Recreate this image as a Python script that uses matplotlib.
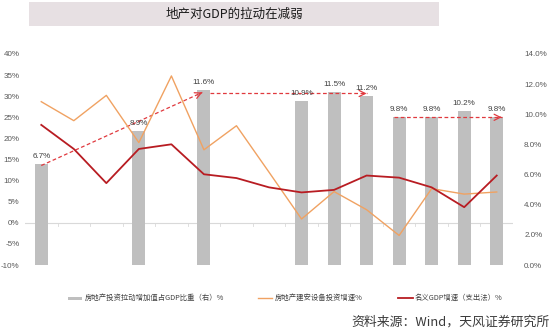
import matplotlib
matplotlib.use("Agg")
import matplotlib.pyplot as plt
from matplotlib import font_manager
from matplotlib.patches import Rectangle
from matplotlib.lines import Line2D

# ---- data ----
years = ["2007", "2008", "2009", "2010", "2011", "2012", "2013", "2014",
         "2015", "2016", "2017", "2018", "2019", "2020", "2021"]
# 房地产投资拉动增加值占GDP比重 (right axis, %), only some years published
re_share = [6.7, None, None, 8.9, None, 11.6, None, None,
            10.9, 11.5, 11.2, 9.8, 9.8, 10.2, 9.8]
# 房地产建安设备投资增速 (%)
construction_growth = [28.7, 24.2, 30.2, 19.0, 34.8, 17.3, 23.0, 12.0,
                       0.9, 7.4, 3.1, -3.0, 8.1, 6.8, 7.3]
# 名义GDP增速（支出法）(%)
nominal_gdp_growth = [23.2, 17.5, 9.4, 17.5, 18.6, 11.5, 10.6, 8.4,
                      7.2, 7.8, 11.2, 10.7, 8.4, 3.7, 11.2]

left_ticks = [-10, -5, 0, 5, 10, 15, 20, 25, 30, 35, 40]
right_ticks = [0, 2, 4, 6, 8, 10, 12, 14]

title = "地产对GDP的拉动在减弱"
legend_labels = ["房地产投资拉动增加值占GDP比重（右）%",
                 "房地产建安设备投资增速%",
                 "名义GDP增速（支出法）%"]
source = "资料来源：Wind，天风证券研究所"

# ---- style ----
plt.rcParams["font.family"] = ["Noto Sans CJK SC", "DejaVu Sans"]
names = {f.name for f in font_manager.fontManager.ttflist}
num_font = "Liberation Sans Narrow" if "Liberation Sans Narrow" in names else "Liberation Sans"

BAR = "#bfbfbf"
ORANGE = "#f0a262"
RED = "#b81c22"
ARROW = "#e0393e"
TXT = "#595959"

W, H = 559, 333
fig = plt.figure(figsize=(W / 100, H / 100), dpi=100)


def fx(px):
    return px / W


def fy(py):
    return 1 - py / H


# axes area in pixels: x 25..513, y 54..265
ax_bar = fig.add_axes([fx(25), fy(265), fx(513) - fx(25), fy(54) - fy(265)])
ax_line = ax_bar.twinx()

x = list(range(len(years)))
for a in (ax_bar, ax_line):
    a.set_xlim(-0.5, len(years) - 0.5)
    for s in a.spines.values():
        s.set_visible(False)
    a.patch.set_visible(False)

ax_bar.set_ylim(0, 14)
ax_line.set_ylim(-10, 40)

# zero line of the left scale with small boundary ticks
ax_bar.plot([-0.5, len(years) - 0.5], [0, 0], transform=ax_line.transData,
            color="#d9d9d9", lw=0.8, zorder=1)
for i in range(len(years) - 1):
    ax_bar.plot([i + 0.5, i + 0.5], [0, -0.7], transform=ax_line.transData,
                color="#d9d9d9", lw=0.6, zorder=1)

# bars
bx = [i for i, v in enumerate(re_share) if v is not None]
bv = [v for v in re_share if v is not None]
ax_bar.bar(bx, bv, width=0.4, color=BAR, zorder=2)
for i, v in zip(bx, bv):
    ax_bar.annotate(f"{v:.1f}%", (i, v), xytext=(0, 3), textcoords="offset points",
                    ha="center", va="bottom", fontsize=5.8, color="#404040",
                    family=num_font, zorder=5)

# dashed trend arrows between bar tops
def dashed_arrow(x0, y0, x1, y1):
    ax_bar.plot([x0, x1], [y0, y1], ls=(0, (3, 2)), color=ARROW, lw=0.9, zorder=3)
    dx, dy = x1 - x0, y1 - y0
    ax_bar.annotate("", xy=(x1, y1), xytext=(x1 - dx * 0.02, y1 - dy * 0.02),
                    arrowprops=dict(arrowstyle="->", color=ARROW, lw=0.9,
                                    mutation_scale=11, shrinkA=0, shrinkB=0),
                    zorder=3)


dashed_arrow(0, re_share[0] - 0.1, 5 - 0.05, re_share[5] - 0.15)
dashed_arrow(5 + 0.2, re_share[5] - 0.22, 10, re_share[5] - 0.22)
dashed_arrow(11 - 0.15, re_share[11], 14 + 0.15, re_share[14])

# lines
ax_line.plot(x, construction_growth, color=ORANGE, lw=1.0, zorder=4)
ax_line.plot(x, nominal_gdp_growth, color=RED, lw=1.3, zorder=5)

# ticks
ax_line.yaxis.tick_left()
ax_line.yaxis.set_label_position("left")
ax_bar.yaxis.tick_right()
ax_line.set_yticks(left_ticks)
ax_line.set_yticklabels([f"{t}%" for t in left_ticks])
ax_bar.set_yticks(right_ticks)
ax_bar.set_yticklabels([f"{t:.1f}%" for t in right_ticks])
ax_bar.set_xticks(x)
ax_bar.set_xticklabels(years)
ax_line.set_xticks([])
ax_bar.tick_params(axis="x", length=0, pad=7, labelsize=5.8, labelcolor="#404040")
ax_bar.tick_params(axis="y", length=0, pad=8, labelsize=5.8, labelcolor=TXT,
                   right=True, labelright=True, left=False, labelleft=False)
ax_line.tick_params(axis="y", length=0, pad=4, labelsize=5.8, labelcolor=TXT,
                    left=True, labelleft=True, right=False, labelright=False)
for lab in ax_bar.get_xticklabels() + ax_bar.get_yticklabels() + ax_line.get_yticklabels():
    lab.set_family(num_font)

# title band
fig.patches.append(Rectangle((fx(29), fy(26)), fx(439) - fx(29), fy(2) - fy(26),
                             transform=fig.transFigure, facecolor="#e7e0e3",
                             edgecolor="none", zorder=0))
fig.text(fx(234), fy(14), title, ha="center", va="center", fontsize=9, color="#1a1a1a")

# legend
ly = fy(298)
fig.patches.append(Rectangle((fx(68), fy(299.5)), fx(82) - fx(68), fy(296.5) - fy(299.5),
                             transform=fig.transFigure, facecolor=BAR, edgecolor="none"))
fig.text(fx(85), ly, legend_labels[0], ha="left", va="center", fontsize=5.3, color="#404040")
fig.lines.append(Line2D([fx(258), fx(272)], [ly, ly], transform=fig.transFigure,
                        color=ORANGE, lw=1.0))
fig.text(fx(275), ly, legend_labels[1], ha="left", va="center", fontsize=5.3, color="#404040")
fig.lines.append(Line2D([fx(398), fx(413)], [ly, ly], transform=fig.transFigure,
                        color=RED, lw=1.3))
fig.text(fx(415), ly, legend_labels[2], ha="left", va="center", fontsize=5.3, color="#404040")

# source note
fig.text(fx(550), fy(322), source, ha="right", va="center", fontsize=9.3, color="#3a3a3a")

fig.savefig("out.png", dpi=100, facecolor="white")
